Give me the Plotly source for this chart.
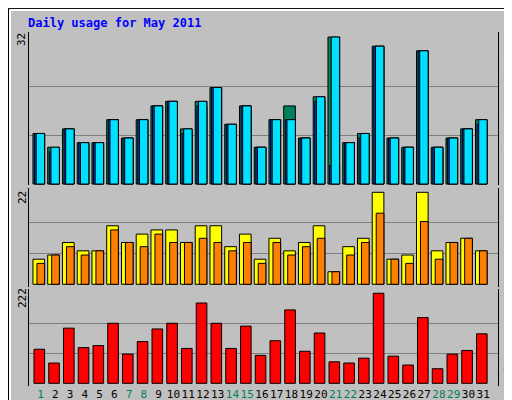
import plotly.graph_objs as go

days = list(range(1, 32))
hits = [11, 8, 12, 9, 9, 14, 10, 14, 17, 18, 12, 18, 21, 13, 17, 8, 14, 17, 10, 19, 32, 9, 11, 30, 10, 8, 29, 8, 10, 12, 14]
files = [11, 7, 12, 9, 9, 14, 10, 14, 17, 18, 11, 17, 21, 13, 17, 8, 14, 14, 10, 18, 4, 9, 10, 30, 10, 8, 29, 8, 10, 12, 13]
pages = [11, 8, 12, 9, 9, 14, 10, 14, 17, 18, 12, 18, 21, 13, 17, 8, 14, 14, 10, 19, 32, 9, 11, 30, 10, 8, 29, 8, 10, 12, 14]
visits = [6, 7, 10, 8, 8, 14, 10, 12, 13, 13, 10, 14, 14, 9, 12, 6, 11, 8, 10, 14, 3, 9, 11, 22, 6, 7, 22, 8, 10, 11, 8]
sites = [5, 7, 9, 7, 8, 13, 10, 9, 12, 10, 10, 11, 10, 8, 10, 5, 10, 7, 9, 11, 3, 7, 10, 17, 6, 5, 15, 6, 10, 11, 8]
kbytes = [84, 50, 136, 88, 93, 148, 72, 103, 134, 148, 86, 198, 148, 86, 141, 69, 105, 181, 79, 124, 53, 50, 62, 222, 67, 45, 162, 36, 72, 81, 122]
weekend_days = [1, 7, 8, 14, 15, 21, 22, 28, 29]

max_hits = 32
max_visits = 22
max_kb = 222

bg = '#C0C0C0'
weekend_color = '#00805C'
mono = 'DejaVu Sans Mono'

fig = go.Figure()


def bar(y, color, offset, width, yaxis, name):
    fig.add_trace(go.Bar(
        x=days, y=y, name=name, xaxis='x', yaxis=yaxis,
        offset=offset, width=width,
        marker=dict(color=color, line=dict(color='#000000', width=1)),
        showlegend=False, hoverinfo='y'))


bar(hits, '#00805C', -0.52, 0.79, 'y', 'Hits')
bar(files, '#0040FF', -0.41, 0.68, 'y', 'Files')
bar(pages, '#00E0FF', -0.30, 0.57, 'y', 'Pages')
bar(visits, '#FFFF00', -0.52, 0.79, 'y2', 'Visits')
bar(sites, '#FF8000', -0.25, 0.52, 'y2', 'Sites')
bar(kbytes, '#FF0000', -0.45, 0.72, 'y3', 'KBytes')

ticktext = []
for d in days:
    if d in weekend_days:
        ticktext.append(f"<span style='color:{weekend_color}'>{d}</span>")
    else:
        ticktext.append(str(d))


def yax(domain, rng, mx):
    return dict(domain=domain, range=rng, anchor='x',
                tickvals=[mx / 3, mx * 2 / 3], showticklabels=False, ticks='',
                showgrid=True, gridcolor='#808080', gridwidth=1, zeroline=False,
                showline=True, mirror=True, linecolor='#000000', linewidth=1)


fig.update_layout(
    width=512, height=400,
    margin=dict(l=0, r=0, t=0, b=0, autoexpand=False),
    paper_bgcolor=bg, plot_bgcolor=bg,
    barmode='overlay',
    font=dict(family=mono, size=11, color='#000000'),
    xaxis=dict(domain=[0.0404, 0.958], range=[0.19, 32.04], anchor='y3',
               tickvals=days, ticktext=ticktext, ticks='', showgrid=False, tickangle=0,
               automargin=False, zeroline=False, tickfont=dict(family=mono, size=11)),
    yaxis=yax([0.5575, 0.94], [-0.22, 33.1], max_hits),
    yaxis2=yax([0.3025, 0.55], [-0.65, 23.03], max_visits),
    yaxis3=yax([0.055, 0.2975], [-6.6, 232.5], max_kb),
)

annotations = [
    dict(text='<b>Daily usage for May 2011</b>', x=18 / 512, y=1 - 15 / 400,
         xanchor='left', yanchor='middle', font=dict(family=mono, size=12, color='#0000FF')),
    dict(text=str(max_hits), x=14 / 512, y=1 - 32 / 400, textangle=-90,
         xanchor='center', yanchor='middle', font=dict(family=mono, size=11)),
    dict(text=str(max_visits), x=14 / 512, y=1 - 190 / 400, textangle=-90,
         xanchor='center', yanchor='middle', font=dict(family=mono, size=11)),
    dict(text=str(max_kb), x=14 / 512, y=1 - 290 / 400, textangle=-90,
         xanchor='center', yanchor='middle', font=dict(family=mono, size=11)),
    dict(text="<span style='color:#00E0FF'>Pages</span> / <span style='color:#0040FF'>Files</span> / "
              "<span style='color:#00805C'>Hits</span>",
         x=500 / 512, y=1 - 75 / 400, textangle=-90, xanchor='center', yanchor='middle',
         font=dict(family=mono, size=11, color='#404040')),
    dict(text="<span style='color:#FF8000'>Sites</span> / <span style='color:#FFFF00'>Visits</span>",
         x=500 / 512, y=1 - 243 / 400, textangle=-90, xanchor='center', yanchor='middle',
         font=dict(family=mono, size=11, color='#404040')),
    dict(text='KBytes', x=500 / 512, y=1 - 350 / 400, textangle=-90,
         xanchor='center', yanchor='middle', font=dict(family=mono, size=11, color='#FF0000')),
]
for a in annotations:
    a.update(xref='paper', yref='paper', showarrow=False)
fig.update_layout(annotations=annotations)

# window frame: black border, light top/left bevel, dark bottom/right bevel
fig.add_shape(type='rect', xref='paper', yref='paper', x0=0.001, y0=0.001, x1=0.999, y1=0.999,
              line=dict(color='#000000', width=1))
fig.add_shape(type='line', xref='paper', yref='paper', x0=0.004, y0=0.995, x1=0.996, y1=0.995,
              line=dict(color='#FFFFFF', width=2))
fig.add_shape(type='line', xref='paper', yref='paper', x0=0.004, y0=0.005, x1=0.004, y1=0.995,
              line=dict(color='#FFFFFF', width=2))
fig.add_shape(type='line', xref='paper', yref='paper', x0=0.004, y0=0.006, x1=0.996, y1=0.006,
              line=dict(color='#808080', width=3))
fig.add_shape(type='line', xref='paper', yref='paper', x0=0.995, y0=0.005, x1=0.995, y1=0.995,
              line=dict(color='#808080', width=3))

fig.write_html("out.html")
